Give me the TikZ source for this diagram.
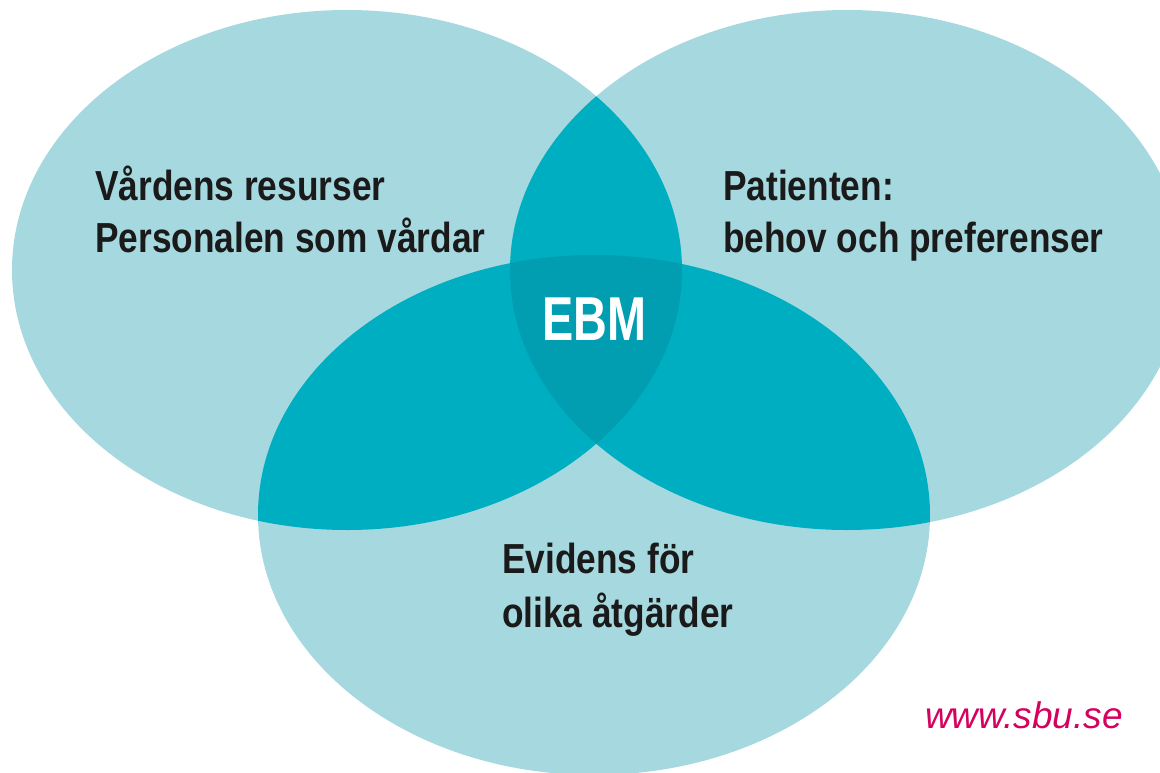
\documentclass[tikz,border=0pt]{standalone}
\usepackage{fontspec}
\setmainfont{Liberation Sans}
\newfontfamily\narrowfont[FakeStretch=0.84]{Liberation Sans}
\newfontfamily\ebmfont[FakeStretch=0.755]{Liberation Sans}
\definecolor{vlight}{HTML}{A6D8DF}
\definecolor{vmid}{HTML}{00AEC1}
\definecolor{vdark}{HTML}{009EB0}
\definecolor{vtext}{HTML}{1A1A1A}
\definecolor{vpink}{HTML}{D6005E}
\begin{document}
\begin{tikzpicture}[x=1pt,y=-1pt,
  lbl/.style={anchor=base west,inner sep=0pt,text=vtext,font=\narrowfont\bfseries\fontsize{42}{48}\selectfont},
  ebm/.style={anchor=base west,inner sep=0pt,text=white,font=\ebmfont\bfseries\fontsize{62}{70}\selectfont},
  web/.style={anchor=base west,inner sep=0pt,text=vpink,font=\itshape\fontsize{37}{40}\selectfont}]
\useasboundingbox (0,0) rectangle (1160,772);
\clip (0,0) rectangle (1160,772);
\def\ellL{(347,270) ellipse [x radius=335, y radius=260]}
\def\ellR{(847,270) ellipse [x radius=337, y radius=260]}
\def\ellB{(594,515) ellipse [x radius=336, y radius=260]}
\fill[vlight] \ellL;
\fill[vlight] \ellR;
\fill[vlight] \ellB;
\begin{scope}
  \clip \ellL;
  \fill[vmid] \ellR;
  \fill[vmid] \ellB;
\end{scope}
\begin{scope}
  \clip \ellR;
  \fill[vmid] \ellB;
  \clip \ellB;
  \fill[vdark] \ellL;
\end{scope}
\node[lbl] (l1) at (95,200) {Vårdens resurser};
\node[lbl] (l2) at (95,252) {Personalen som vårdar};
\node[lbl] (r1) at (723,200) {Patienten:};
\node[lbl] (r2) at (723,252) {behov och preferenser};
\node[lbl] (b1) at (502,573) {Evidens för};
\node[lbl] (b2) at (502,627) {olika åtgärder};
\node[ebm] (ebm) at (542,340) {EBM};
\node[web] (web) at (925,728) {www.sbu.se};
\end{tikzpicture}
\end{document}
